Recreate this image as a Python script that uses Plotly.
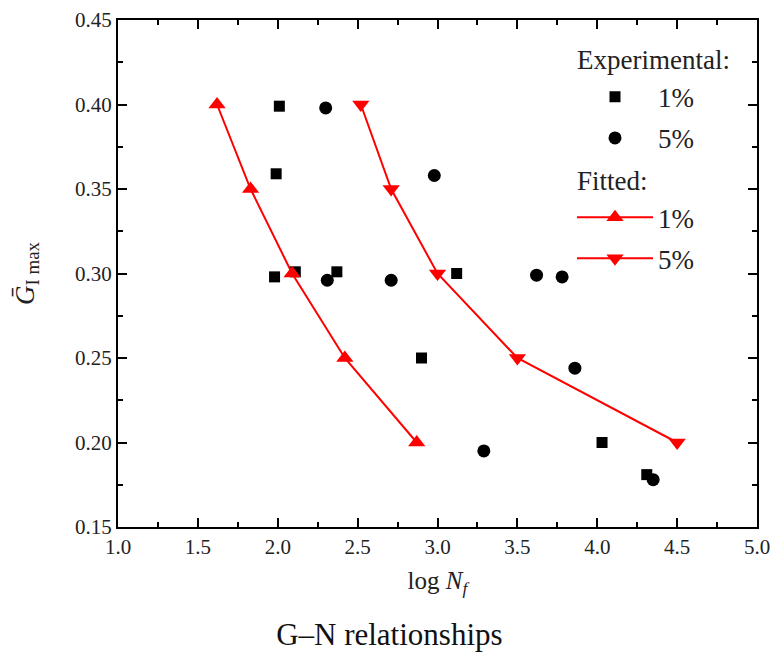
import plotly.graph_objects as go

# Experimental data
exp1_x = [2.01, 1.99, 1.98, 2.11, 2.37, 3.12, 2.90, 4.03, 4.31]
exp1_y = [0.399, 0.359, 0.298, 0.301, 0.301, 0.300, 0.250, 0.200, 0.181]
exp5_x = [2.30, 2.98, 2.31, 2.71, 3.62, 3.78, 3.86, 3.29, 4.35]
exp5_y = [0.398, 0.358, 0.296, 0.296, 0.299, 0.298, 0.244, 0.195, 0.178]

# Fitted curves
fit1_x = [1.62, 1.83, 2.09, 2.42, 2.87]
fit1_y = [0.40, 0.35, 0.30, 0.25, 0.20]
fit5_x = [2.52, 2.71, 3.00, 3.50, 4.50]
fit5_y = [0.40, 0.35, 0.30, 0.25, 0.20]

x_ticks = [1.0, 1.5, 2.0, 2.5, 3.0, 3.5, 4.0, 4.5, 5.0]
y_ticks = [0.15, 0.20, 0.25, 0.30, 0.35, 0.40, 0.45]

FONT = "Liberation Serif"
RED = "#ff0000"
TXT = "#222222"

fig = go.Figure()
fig.add_trace(go.Scatter(
    x=exp1_x, y=exp1_y, mode="markers", name="1%",
    marker=dict(symbol="square", size=11, color="black"),
    legendgroup="exp1", legendgrouptitle=dict(text="Experimental:")))
fig.add_trace(go.Scatter(
    x=exp5_x, y=exp5_y, mode="markers", name="5%",
    marker=dict(symbol="circle", size=13, color="black"),
    legendgroup="exp5"))
fig.add_trace(go.Scatter(
    x=fit1_x, y=fit1_y, mode="lines+markers", name="1%",
    line=dict(color=RED, width=2),
    marker=dict(symbol="triangle-up", size=15, color=RED),
    legendgroup="fit1", legendgrouptitle=dict(text="Fitted:")))
fig.add_trace(go.Scatter(
    x=fit5_x, y=fit5_y, mode="lines+markers", name="5%",
    line=dict(color=RED, width=2),
    marker=dict(symbol="triangle-down", size=15, color=RED),
    legendgroup="fit5"))

axis_common = dict(
    showline=True, linecolor="black", linewidth=2, mirror="ticks",
    ticks="inside", ticklen=9, tickwidth=2, tickcolor="black",
    showgrid=False, zeroline=False, automargin=False,
    tickfont=dict(family=FONT, size=21, color=TXT),
    minor=dict(ticks="inside", ticklen=5, tickwidth=2, tickcolor="black", showgrid=False),
)

fig.update_xaxes(
    range=[1.0, 5.0], tickvals=x_ticks, ticktext=[f"{v:.1f}" for v in x_ticks],
    minor_dtick=0.25,
    title=dict(text="log <i>N<sub>f</sub></i>", font=dict(family=FONT, size=25, color=TXT), standoff=13),
    **axis_common)
fig.update_yaxes(
    range=[0.15, 0.45], tickvals=y_ticks, ticktext=[f"{v:.2f}" for v in y_ticks],
    minor_dtick=0.025,
    title=dict(text="<i>G\u0304</i><sub>I max</sub>", font=dict(family=FONT, size=27, color=TXT), standoff=33),
    **axis_common)

fig.update_layout(
    width=771, height=652,
    margin=dict(l=118, r=14, t=20, b=125),
    paper_bgcolor="white", plot_bgcolor="white",
    font=dict(family=FONT, color=TXT),
    title=dict(text="G\u2013N relationships", font=dict(family=FONT, size=31, color="#111"),
               x=0.505, xanchor="center", y=0.011, yanchor="bottom"),
    legend=dict(x=0.7105, y=0.971, xanchor="left", yanchor="top",
                font=dict(family=FONT, size=27, color=TXT),
                grouptitlefont=dict(family=FONT, size=27, color=TXT),
                bgcolor="rgba(0,0,0,0)", itemwidth=76, tracegroupgap=3,
                itemclick=False),
)

fig.write_html("out.html", config={"displayModeBar": False},
               post_script="document.body.style.margin='0';")
